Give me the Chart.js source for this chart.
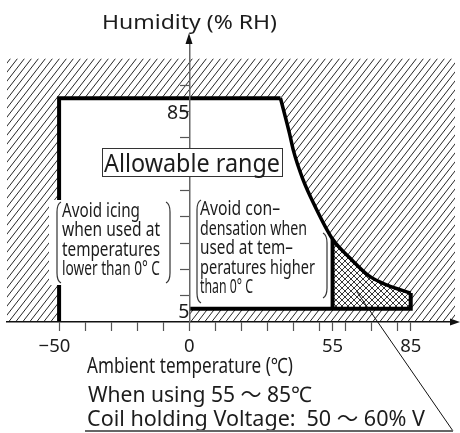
<!DOCTYPE html>
<html><head><meta charset="utf-8">
<script src="https://cdn.jsdelivr.net/npm/chart.js@4.4.1/dist/chart.umd.min.js"></script>
<style>html,body{margin:0;padding:0;background:#fff}canvas{display:block}</style>
</head><body>
<canvas id="c" width="460" height="433"></canvas>
<script>
// ---- data ----
const X_MIN = -70, X_MAX = 102, Y_MAX = 106, HATCH_TOP = 100;
const xTickValues = [-50,-40,-30,-20,-10,0,10,20,30,40,50,55,60,70,80,85];
const xTickLabels = [-50,0,55,85];
const yTickValues = [10,20,30,40,50,60,70,80,90];
const yTickLabels = [5,85];
const lowTemp = -50, zeroTemp = 0;
const topHumidity = 85, bottomHumidity = 5;
const curveTemp = [35,38.5,40,43.5,48,55,62.5,69,76,85];
const curveHum  = [85,71.5,65,54.5,44.5,31.5,23.5,17.5,14,11];
const coilTempStart = 55, coilTempEnd = 85;

// ---- helpers ----
const pts = (xs, ys) => xs.map((x,i) => ({x, y: ys[i]}));
const curvePts = pts(curveTemp, curveHum);
const crossPts = curvePts.filter(p => p.x >= coilTempStart);
const humAt = t => curveHum[curveTemp.indexOf(t)];
const FONT = '"Noto Sans", "Noto Sans CJK JP", sans-serif';

function makeHatch(){
  const c = document.createElement('canvas'); c.width = 7; c.height = 9;
  const g = c.getContext('2d');
  g.strokeStyle = '#1a1a1a'; g.lineWidth = 0.95;
  for (const dx of [-7,0,7]) { g.beginPath(); g.moveTo(dx, 9); g.lineTo(dx+7, 0); g.stroke(); }
  return g.createPattern(c, 'repeat');
}
function makeCross(){
  const c = document.createElement('canvas'); c.width = 6; c.height = 6;
  const g = c.getContext('2d');
  g.strokeStyle = '#222'; g.lineWidth = 0.9;
  for (const dx of [-6,0,6]) {
    g.beginPath(); g.moveTo(dx, 6); g.lineTo(dx+6, 0); g.stroke();
    g.beginPath(); g.moveTo(dx, 0); g.lineTo(dx+6, 6); g.stroke();
  }
  return g.createPattern(c, 'repeat');
}
const hatch = makeHatch(), cross = makeCross();

const base = {pointRadius: 0, borderWidth: 0, tension: 0};
const edge = {pointRadius: 0, borderWidth: 4, borderColor: '#000', borderJoinStyle: 'miter', fill: false, tension: 0, order: 1};

const datasets = [
  {...base, label:'hatch', data:[{x:X_MIN,y:HATCH_TOP},{x:X_MAX,y:HATCH_TOP}], fill:'origin', backgroundColor:hatch, order:10},
  {...base, label:'allowable', data:[{x:lowTemp,y:topHumidity}, ...curvePts], fill:'origin', backgroundColor:'#fff', order:9},
  {...base, label:'strip', data:[{x:zeroTemp,y:bottomHumidity},{x:coilTempEnd,y:bottomHumidity}], fill:'origin', backgroundColor:hatch, order:7},
  {...base, label:'cross', data:crossPts, fill:{value:bottomHumidity}, backgroundColor:cross, order:6},
  {...edge, label:'edgeL', data:[{x:lowTemp,y:0},{x:lowTemp,y:topHumidity},{x:curveTemp[0],y:topHumidity}]},
  {...edge, label:'edgeC', data:curvePts, borderWidth:3.5, cubicInterpolationMode:'monotone'},
  {...edge, label:'edgeR', data:[{x:coilTempEnd,y:humAt(coilTempEnd)},{x:coilTempEnd,y:bottomHumidity},{x:zeroTemp,y:bottomHumidity}]},
  {...edge, label:'edgeX', data:[{x:coilTempStart,y:bottomHumidity},{x:coilTempStart,y:humAt(coilTempStart)}]},
];

function fitText(ctx, s, x, y, size, w){
  ctx.font = size + 'px ' + FONT;
  const m = ctx.measureText(s).width;
  ctx.save(); ctx.translate(x, y); ctx.scale(w/m, 1); ctx.fillText(s, 0, 0); ctx.restore();
}
function paren(ctx, x, y1, y2, dir){
  ctx.beginPath();
  ctx.moveTo(x + 4*dir, y1);
  ctx.quadraticCurveTo(x, y1 + 2, x, y1 + 10);
  ctx.lineTo(x, y2 - 10);
  ctx.quadraticCurveTo(x, y2 - 2, x + 4*dir, y2);
  ctx.stroke();
}

const annot = {
  id: 'annot',
  afterDraw(chart){
    const {ctx, chartArea: a, scales: {x}} = chart;
    ctx.save();
    ctx.fillStyle = '#111';
    const ax = Math.round(x.getPixelForValue(0));
    ctx.beginPath(); ctx.moveTo(ax, a.top - 10); ctx.lineTo(ax - 3.5, a.top + 1); ctx.lineTo(ax + 3.5, a.top + 1); ctx.closePath(); ctx.fill();
    ctx.beginPath(); ctx.moveTo(a.right + 5, a.bottom); ctx.lineTo(a.right - 5, a.bottom - 3.5); ctx.lineTo(a.right - 5, a.bottom + 3.5); ctx.closePath(); ctx.fill();

    ctx.fillStyle = '#fff';
    ctx.fillRect(49, 200, 125, 85);
    ctx.fillRect(102, 148, 181, 29);
    ctx.strokeStyle = '#333'; ctx.lineWidth = 1;
    ctx.strokeRect(102.5, 148.5, 180, 28);

    ctx.fillStyle = '#1c1c1c';
    ctx.textBaseline = 'alphabetic'; ctx.textAlign = 'left';
    fitText(ctx, 'Humidity (% RH)', 102, 29, 20.5, 175);
    fitText(ctx, 'Allowable range', 104, 171.5, 26, 176);

    const ice = [['Avoid icing',78],['when used at',98],['temperatures',98],['lower than 0° C',98]];
    ice.forEach((l,i) => fitText(ctx, l[0], 62, 216.5 + i*19.5, 19, l[1]));
    const cond = [['Avoid con–',80],['densation when',107],['used at tem–',93],['peratures higher',115],['than 0° C',53]];
    cond.forEach((l,i) => fitText(ctx, l[0], 200, 215 + i*19.6, 19, l[1]));

    ctx.strokeStyle = '#333'; ctx.lineWidth = 1.2;
    paren(ctx, 57, 202, 283, 1); paren(ctx, 170, 202, 283, -1);
    paren(ctx, 197, 200, 303, 1); paren(ctx, 327, 233, 298, -1);

    fitText(ctx, 'Ambient temperature (℃)', 87, 372.5, 21, 206);
    fitText(ctx, 'When using 55 ～ 85℃', 88, 401.5, 21.5, 224);
    fitText(ctx, 'Coil holding Voltage:\u200250 ～ 60% V', 87, 426, 21.5, 338);

    ctx.strokeStyle = '#111'; ctx.lineWidth = 1;
    ctx.beginPath(); ctx.moveTo(357, 292); ctx.lineTo(453, 431); ctx.stroke();
    ctx.strokeStyle = '#666'; ctx.lineWidth = 1.8;
    ctx.beginPath(); ctx.moveTo(85, 431); ctx.lineTo(453, 431); ctx.stroke();
    ctx.restore();
  }
};

new Chart(document.getElementById('c'), {
  type: 'line',
  data: {datasets},
  plugins: [annot],
  options: {
    responsive: false, animation: false, devicePixelRatio: 1,
    layout: {padding: {left: 7, right: 5, top: 43, bottom: 69.8}},
    plugins: {legend: {display: false}, tooltip: {enabled: false}, filler: {drawTime: 'beforeDatasetDraw'}},
    scales: {
      x: {
        type: 'linear', min: X_MIN, max: X_MAX, position: 'bottom',
        afterBuildTicks: ax => { ax.ticks = xTickValues.map(v => ({value: v})); },
        ticks: {autoSkip: false, maxRotation: 0, padding: 5, color: '#1c1c1c', font: {family: FONT, size: 18.5},
          callback: v => xTickLabels.includes(v) ? (v < 0 ? '−' + Math.abs(v) + '\u2002' : String(v)) : ''},
        grid: {drawOnChartArea: false, tickLength: 9, tickColor: '#555', tickWidth: 1.2, z: 1},
        border: {color: '#111', width: 1.5, z: 1}
      },
      y: {
        type: 'linear', min: 0, max: Y_MAX, position: {x: 0},
        afterBuildTicks: ax => { ax.ticks = [...yTickValues, ...yTickLabels].map(v => ({value: v})); },
        ticks: {autoSkip: false, padding: 4, color: '#1c1c1c', z: 1,
          font: c => {
            const v = c.tick ? c.tick.value : null;
            return {family: FONT, size: 19.5, lineHeight: v === 85 ? '30px' : (v === 5 ? '7px' : 1.2)};
          },
          callback: v => yTickLabels.includes(v) ? ['', String(v)] : ''},
        grid: {drawOnChartArea: false, tickLength: 9, tickWidth: 1.2, z: 1,
          tickColor: c => (c.tick && yTickLabels.includes(c.tick.value)) ? 'rgba(0,0,0,0)' : '#555'},
        border: {color: '#666', width: 1.5, z: 1}
      }
    }
  }
});
</script>
</body></html>
